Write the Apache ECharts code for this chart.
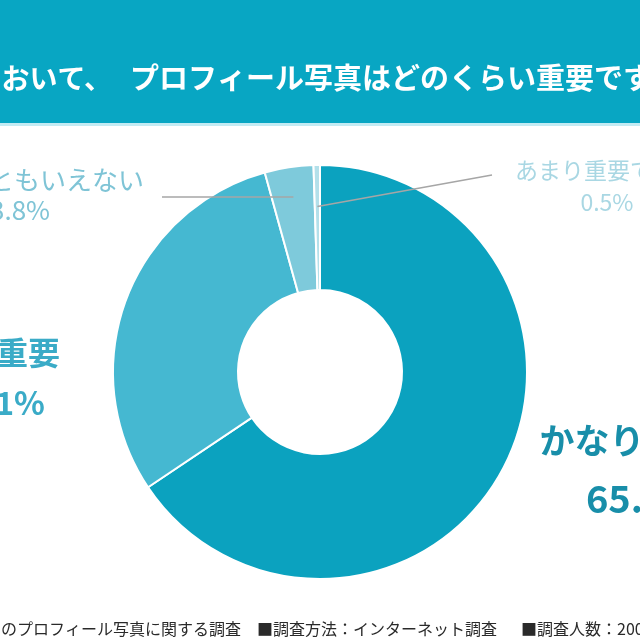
<!DOCTYPE html>
<html>
<head>
<meta charset="utf-8">
<script src="https://cdn.jsdelivr.net/npm/echarts@6/dist/echarts.min.js"></script>
<style>
html,body{margin:0;padding:0;background:#fff;}
#chart{width:640px;height:640px;}
</style>
</head>
<body>
<div id="chart"></div>
<script>
// ---- data ----
const categories = ['かなり重要', 'やや重要', 'どちらともいえない', 'あまり重要でない'];
const values = [65.6, 30.1, 3.8, 0.5];
const titleLeft = 'マッチングアプリにおいて、';
const titleRight = 'プロフィール写真はどのくらい重要ですか？';
const footnotes = ['■調査対象：マッチングアプリのプロフィール写真に関する調査', '■調査方法：インターネット調査', '■調査人数：200名'];

// ---- styles ----
const sliceColors = ['#0ba2bf', '#45b8d1', '#7ecadb', '#b3e0ea'];
const textColors = ['#188ea9', '#3aabc7', '#7fc4d6', '#a9d7e3'];
const nameSizes = [35, 32, 26, 23];
const valueSizes = [38, 32, 26, 23];
const lineHeights = [58, 50, 30, 32];
const weights = ['bold', 'bold', 'normal', 'normal'];
const valuePadding = [[0, 0, 0, 34], [0, 0, 0, 0], [0, 14, 0, 0], [0, 0, 0, 0]];
const labelCenters = [[627, 470], [-4, 378], [27, 195], [607, 186]];
const leaderEnds = [null, null, [162, null], [492, 175]]; // outer end of leader lines
const center = [320, 372];
const radii = [82, 207];
const FONT = '"Noto Sans CJK JP", "Noto Sans", sans-serif';

const total = values.reduce((a, b) => a + b, 0);
function midAngle(i) {
  let s = 0;
  for (let k = 0; k < i; k++) s += values[k];
  return ((s + values[i] / 2) / total) * Math.PI * 2;
}

const sliceData = categories.map((name, i) => ({
  name: name,
  value: values[i],
  itemStyle: { color: sliceColors[i] }
}));

const labelData = categories.map((name, i) => ({
  name: name,
  value: values[i],
  itemStyle: { color: 'rgba(0,0,0,0)', borderWidth: 0 },
  label: {
    show: true,
    formatter: '{n|{b}}\n{v|{c}%}',
    rich: {
      n: { fontSize: nameSizes[i], color: textColors[i], fontWeight: weights[i], lineHeight: lineHeights[i], fontFamily: FONT, align: 'center' },
      v: { fontSize: valueSizes[i], color: textColors[i], fontWeight: weights[i], lineHeight: lineHeights[i], fontFamily: FONT, align: 'center', padding: valuePadding[i] }
    }
  },
  labelLine: { show: leaderEnds[i] !== null, lineStyle: { color: '#a6a6a6', width: 1.5 } }
}));

const chart = echarts.init(document.getElementById('chart'), null, { renderer: 'canvas' });
chart.setOption({
  backgroundColor: '#ffffff',
  animation: false,
  graphic: [
    { type: 'rect', left: 0, top: 0, shape: { width: 640, height: 123 }, style: { fill: '#08a6c3' }, z: 0 },
    { type: 'rect', left: 0, top: 123, shape: { width: 640, height: 3 }, style: { fill: '#c3ebf3' }, z: 0 },
    { type: 'text', x: 112, y: 78, style: { text: titleLeft, fill: '#ffffff', font: 'bold 28px ' + FONT, textAlign: 'right', textVerticalAlign: 'middle' }, z: 1 },
    { type: 'text', x: 130, y: 78, style: { text: titleRight, fill: '#ffffff', font: 'bold 29px ' + FONT, textAlign: 'left', textVerticalAlign: 'middle' }, z: 1 },
    { type: 'text', x: 241, y: 629, style: { text: footnotes[0], fill: '#2a2a2a', font: '16px ' + FONT, textAlign: 'right', textVerticalAlign: 'middle' }, z: 1 },
    { type: 'text', x: 257, y: 629, style: { text: footnotes[1], fill: '#2a2a2a', font: '16px ' + FONT, textAlign: 'left', textVerticalAlign: 'middle' }, z: 1 },
    { type: 'text', x: 521, y: 629, style: { text: footnotes[2], fill: '#2a2a2a', font: '16px ' + FONT, textAlign: 'left', textVerticalAlign: 'middle' }, z: 1 }
  ],
  series: [{
    type: 'pie',
    z: 2,
    center: center,
    radius: radii,
    startAngle: 90,
    clockwise: true,
    silent: true,
    itemStyle: { borderColor: '#ffffff', borderWidth: 2 },
    label: { show: false },
    labelLine: { show: false },
    data: sliceData
  }, {
    type: 'pie',
    z: 5,
    center: center,
    radius: radii,
    startAngle: 90,
    clockwise: true,
    avoidLabelOverlap: false,
    silent: true,
    label: { position: 'outside' },
    labelLayout: function (p) {
      const i = p.dataIndex;
      const c = labelCenters[i];
      const res = { x: c[0], y: c[1], align: 'center', verticalAlign: 'middle' };
      const e = leaderEnds[i];
      if (e) {
        const a = midAngle(i);
        const r = radii[1] * (i === 2 ? 0.855 : 0.8);
        const ix = center[0] + r * Math.sin(a);
        const iy = center[1] - r * Math.cos(a);
        const ox = e[0];
        const oy = e[1] === null ? iy : e[1];
        res.labelLinePoints = [[ox, oy], [(ox + ix) / 2, (oy + iy) / 2], [ix, iy]];
      }
      return res;
    },
    data: labelData
  }]
});
</script>
</body>
</html>
